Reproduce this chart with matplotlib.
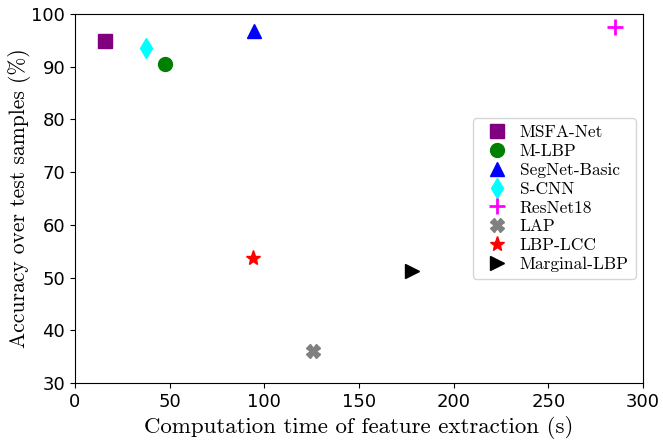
import matplotlib
matplotlib.use("Agg")
import matplotlib.pyplot as plt

methods = ["MSFA-Net", "M-LBP", "SegNet-Basic", "S-CNN", "ResNet18",
           "LAP", "LBP-LCC", "Marginal-LBP"]
times = [15.8, 47.5, 94.6, 37.5, 284.9, 125.5, 94.0, 177.8]
accuracy = [94.9, 90.5, 96.7, 93.5, 97.5, 36.0, 53.7, 51.2]

markers = ["s", "o", "^", "d", "+", "X", "*", ">"]
colors = ["purple", "green", "blue", "cyan", "magenta", "gray", "red", "black"]
sizes = [10, 10, 10, 10, 12, 10, 11, 10]

SERIF = "cmr10"

fig = plt.figure(figsize=(6.63, 4.44), dpi=100)
ax = fig.add_axes([0.113, 0.1374, 0.857, 0.8311])

for name, t, a, m, c, s in zip(methods, times, accuracy, markers, colors, sizes):
    ax.plot([t], [a], linestyle="none", marker=m, color=c, markersize=s,
            markeredgewidth=2 if m == "+" else 1, label=name)

ax.set_xlim(0, 300)
ax.set_ylim(30, 100)
ax.tick_params(labelsize=13)

ax.set_xlabel("Computation time of feature extraction (s)", fontfamily=SERIF,
              fontsize=16.5, labelpad=4)
ax.set_ylabel("Accuracy over test samples (%)", fontfamily=SERIF,
              fontsize=15.5, labelpad=0.5)
ax.legend(loc="center right", bbox_to_anchor=(1.002, 0.5),
          prop={"family": SERIF, "size": 12.5}, handletextpad=0.3,
          labelspacing=0.2, borderpad=0.4)

fig.savefig("out.png", dpi=100)
